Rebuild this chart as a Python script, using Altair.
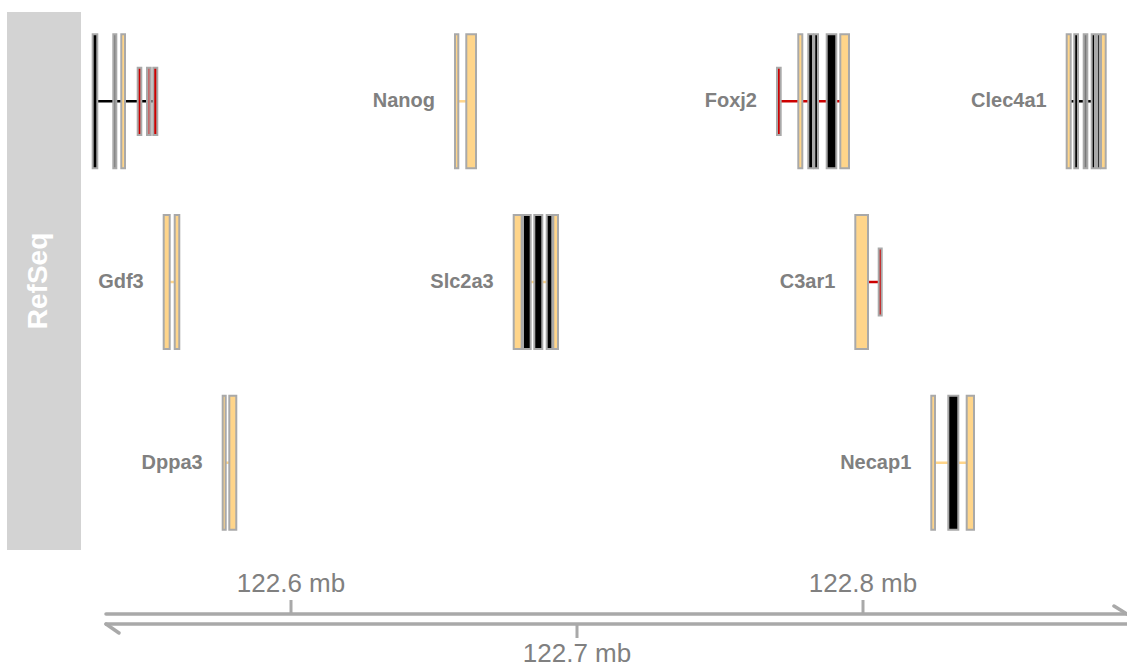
import altair as alt
import pandas as pd

# ---- gene models (positions in Mb) ----
gene_names = ["Apobec1", "Nanog", "Foxj2", "Clec4a1", "Gdf3", "Slc2a3", "C3ar1", "Dppa3", "Necap1"]
gene_labels = ["", "Nanog", "Foxj2", "Clec4a1", "Gdf3", "Slc2a3", "C3ar1", "Dppa3", "Necap1"]
gene_rows = [0, 0, 0, 0, 1, 1, 1, 2, 2]
intron_start = [122.53227, 122.65850, 122.77122, 122.87262, 122.55759, 122.68066, 122.80175, 122.57717, 122.82517]
intron_end = [122.55185, 122.66129, 122.79206, 122.87997, 122.55934, 122.69171, 122.80549, 122.57843, 122.83626]
intron_class = ["black", "orange", "red", "black", "orange", "orange", "red", "orange", "orange"]

exon_gene = (["Apobec1"] * 6 + ["Nanog"] * 2 + ["Foxj2"] * 6 + ["Clec4a1"] * 6
             + ["Gdf3"] * 2 + ["Slc2a3"] * 5 + ["C3ar1"] * 2 + ["Dppa3"] * 2 + ["Necap1"] * 3)
exon_start = [
    122.53066, 122.53787, 122.54066, 122.54640, 122.54965, 122.55185,
    122.65734, 122.66129,
    122.76993, 122.77738, 122.78087, 122.78297, 122.78731, 122.79206,
    122.87122, 122.87388, 122.87717, 122.87997, 122.88182, 122.88322,
    122.55549, 122.55934,
    122.67787, 122.68112, 122.68507, 122.68941, 122.69171,
    122.79731, 122.80549,
    122.57612, 122.57843,
    122.82388, 122.82983, 122.83626,
]
exon_end = [
    122.53227, 122.53892, 122.54196, 122.54766, 122.55094, 122.55325,
    122.65850, 122.66469,
    122.77122, 122.77878, 122.78252, 122.78427, 122.79066, 122.79510,
    122.87262, 122.87517, 122.87843, 122.88112, 122.88276, 122.88486,
    122.55759, 122.56094,
    122.68066, 122.68381, 122.68787, 122.69136, 122.69336,
    122.80175, 122.80654,
    122.57717, 122.58087,
    122.82517, 122.83332, 122.83881,
]
exon_class = [
    "black", "grey", "orange", "red", "rose", "red",
    "orange", "orange",
    "red", "orange", "black", "black", "black", "orange",
    "orange", "black", "grey", "black", "black", "orange",
    "orange", "orange",
    "orange", "black", "black", "black", "orange",
    "orange", "red",
    "orange", "orange",
    "orange", "black", "orange",
]
exon_thin = [
    False, False, False, True, True, True,
    False, False,
    True, False, False, False, False, False,
    False, False, False, False, False, False,
    False, False,
    False, False, False, False, False,
    False, True,
    False, False,
    False, False, False,
]

# genome axis
axis_start, axis_end = 122.53531, 122.89231
tick_mb = [122.6, 122.7, 122.8]
tick_side = ["up", "down", "up"]

# ---- styling ----
class_names = ["black", "grey", "orange", "red", "rose"]
class_colors = ["#000000", "#7a7a7a", "#FFD58A", "#CD0000", "#C46A6A"]
border = "#A9A9A9"
label_grey = "#808080"
font = "Liberation Sans"

genes = pd.DataFrame({
    "gene": gene_names, "label": gene_labels, "row": gene_rows,
    "istart": intron_start, "iend": intron_end, "cls": intron_class,
})
exons = pd.DataFrame({
    "gene": exon_gene, "start": exon_start, "end": exon_end,
    "cls": exon_class, "thin": exon_thin,
}).merge(genes[["gene", "row"]], on="gene")
genes["label_at"] = genes["gene"].map(exons.groupby("gene")["start"].min())

ticks = pd.DataFrame({"mb": tick_mb, "side": tick_side})
ticks["text"] = ticks["mb"].map(lambda v: f"{v:.1f} mb")
strand = pd.DataFrame({"start": [axis_start], "end": [axis_end]})

xscale = alt.Scale(domain=[122.498252, 122.892308], nice=False, zero=False)
yscale = alt.Scale(domain=[-0.5606, 3.1306], nice=False, zero=False, reverse=True)
fill_scale = alt.Scale(domain=class_names, range=class_colors)
one = alt.Data(values=[{}])

side_panel = alt.Chart(one).mark_rect(color="#D3D3D3").encode(
    x=alt.value(7), x2=alt.value(81), y=alt.value(12), y2=alt.value(550)
)
side_title = alt.Chart(one).mark_text(
    text="RefSeq", angle=270, font=font, fontSize=28, fontWeight="bold",
    color="white", baseline="middle", align="center",
).encode(x=alt.value(39), y=alt.value(281))

introns = alt.Chart(genes).mark_rule(strokeWidth=2.5).encode(
    x=alt.X("istart:Q", scale=xscale, axis=None),
    x2="iend:Q",
    y=alt.Y("row:Q", scale=yscale, axis=None),
    color=alt.Color("cls:N", scale=fill_scale, legend=None),
)

exon_boxes = alt.Chart(exons).transform_calculate(
    half="datum.thin ? 0.186 : 0.371",
    ytop="datum.row - datum.half",
    ybot="datum.row + datum.half",
).mark_rect(stroke=border, strokeWidth=2).encode(
    x=alt.X("start:Q", scale=xscale, axis=None),
    x2="end:Q",
    y=alt.Y("ytop:Q", scale=yscale, axis=None),
    y2="ybot:Q",
    fill=alt.Fill("cls:N", scale=fill_scale, legend=None),
)

gene_text = alt.Chart(genes).transform_filter("datum.label != ''").mark_text(
    align="right", baseline="middle", dx=-20, font=font, fontSize=20,
    fontWeight="bold", color=label_grey,
).encode(
    x=alt.X("label_at:Q", scale=xscale, axis=None),
    y=alt.Y("row:Q", scale=yscale, axis=None),
    text="label:N",
)

axis_style = dict(color=border, strokeWidth=3.5, strokeCap="round")
strand_fwd = alt.Chart(strand).mark_rule(**axis_style).encode(
    x=alt.X("start:Q", scale=xscale, axis=None), x2="end:Q", y=alt.value(614)
)
strand_rev = alt.Chart(strand).mark_rule(**axis_style).encode(
    x=alt.X("start:Q", scale=xscale, axis=None), x2="end:Q", y=alt.value(624)
)
barb_fwd = alt.Chart(one).mark_rule(**axis_style).encode(
    x=alt.value(1114), x2=alt.value(1127), y=alt.value(606), y2=alt.value(614)
)
barb_rev = alt.Chart(one).mark_rule(**axis_style).encode(
    x=alt.value(106), x2=alt.value(119), y=alt.value(624), y2=alt.value(633)
)
ticks_up = alt.Chart(ticks).transform_filter("datum.side == 'up'").mark_rule(
    color=border, strokeWidth=3
).encode(x=alt.X("mb:Q", scale=xscale, axis=None), y=alt.value(600), y2=alt.value(614))
ticks_down = alt.Chart(ticks).transform_filter("datum.side == 'down'").mark_rule(
    color=border, strokeWidth=3
).encode(x=alt.X("mb:Q", scale=xscale, axis=None), y=alt.value(624), y2=alt.value(638))
tick_text_style = dict(font=font, fontSize=26, color=label_grey, baseline="middle", align="center")
labels_up = alt.Chart(ticks).transform_filter("datum.side == 'up'").mark_text(**tick_text_style).encode(
    x=alt.X("mb:Q", scale=xscale, axis=None), y=alt.value(584), text="text:N"
)
labels_down = alt.Chart(ticks).transform_filter("datum.side == 'down'").mark_text(**tick_text_style).encode(
    x=alt.X("mb:Q", scale=xscale, axis=None), y=alt.value(654), text="text:N"
)

chart = alt.layer(
    side_panel, side_title, introns, exon_boxes, gene_text,
    strand_fwd, strand_rev, barb_fwd, barb_rev, ticks_up, ticks_down,
    labels_up, labels_down,
).properties(
    width=1127, height=667, autosize=alt.AutoSizeParams(type="none"), padding=0,
).configure_view(stroke=None)

chart.save("out.html", embed_options={"renderer": "svg", "actions": False})
